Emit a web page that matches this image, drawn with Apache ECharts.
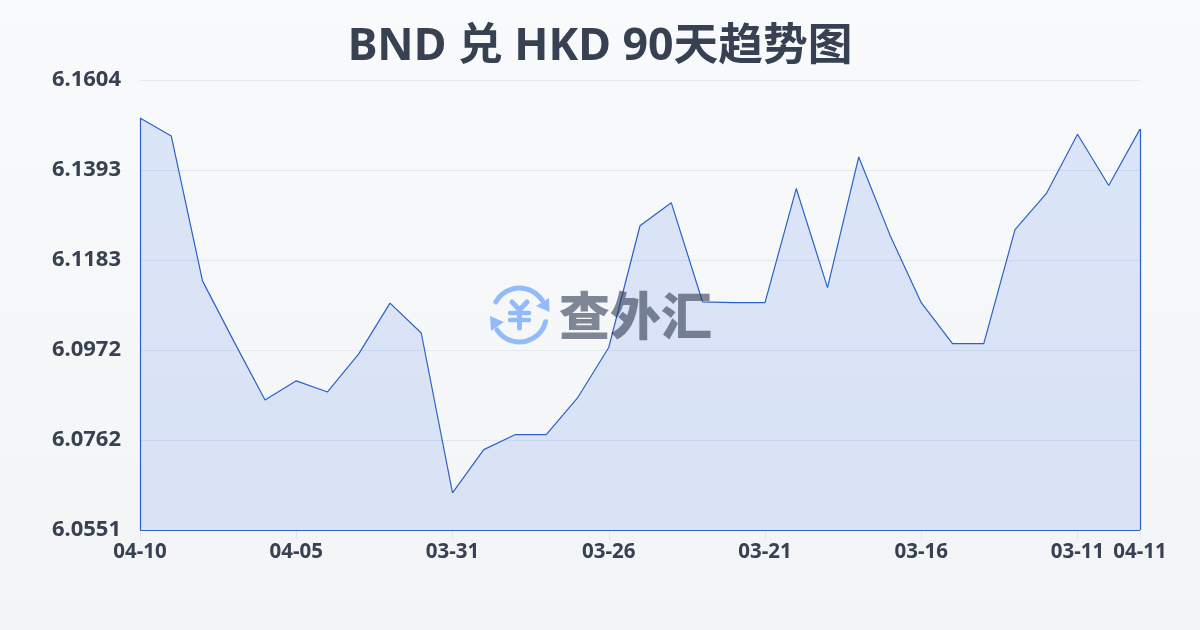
<!DOCTYPE html>
<html><head><meta charset="utf-8">
<style>html,body{margin:0;padding:0;width:1200px;height:630px;overflow:hidden}#c{width:1200px;height:630px}</style>
<script src="https://cdn.jsdelivr.net/npm/echarts@6/dist/echarts.min.js"></script>
</head><body><div id="c"></div>
<script>
const titleText = 'BND 兑 HKD 90天趋势图';
const categories = ['04-10','04-09','04-08','04-07','04-06','04-05','04-04','04-03','04-02','04-01','03-31','03-30','03-29','03-28','03-27','03-26','03-25','03-24','03-23','03-22','03-21','03-20','03-19','03-18','03-17','03-16','03-15','03-14','03-13','03-12','03-11','03-10','04-11'];
const rates = [6.1515,6.1473,6.1134,6.0993,6.0855,6.0900,6.0874,6.0963,6.1082,6.1012,6.0638,6.0739,6.0774,6.0774,6.0860,6.0978,6.1263,6.1317,6.1085,6.1083,6.1083,6.1350,6.1118,6.1424,6.1241,6.1083,6.0987,6.0987,6.1254,6.1338,6.1477,6.1357,6.1489];
const yMin = 6.0551, yMax = 6.1604, yStep = 0.02106;
const last = categories.length - 1;
const ink = '#374151', label = '#374151', blue = '#2b62c9', icon = '#93bbfb';
const showTick = i => i % 5 === 0 || i === last;
const chart = echarts.init(document.getElementById('c'), null, {renderer:'canvas'});
chart.setOption({
  animation:false,
  backgroundColor:{type:'linear',x:0,y:0,x2:0,y2:1,colorStops:[{offset:0,color:'#f8fafc'},{offset:1,color:'#f3f4f6'}]},
  title:{text:titleText,left:'center',top:20,textStyle:{fontFamily:'"Noto Sans","Noto Sans CJK SC"',fontSize:44.7,fontWeight:700,color:ink}},
  grid:{left:140,right:60,top:80,bottom:100,containLabel:false},
  xAxis:{type:'category',boundaryGap:false,data:categories,
    axisLine:{show:false},
    axisTick:{show:true,length:10,interval:i=>showTick(i),alignWithLabel:true,lineStyle:{color:'#e2e8f0'}},
    axisLabel:{interval:i=>showTick(i),hideOverlap:false,margin:12,fontFamily:'"Noto Sans"',fontSize:20.5,fontWeight:700,color:label},
    splitLine:{show:false}},
  yAxis:{type:'value',min:yMin,max:yMax,interval:yStep,
    axisLine:{show:false},axisTick:{show:false},
    axisLabel:{margin:19,padding:[0,0,3,0],fontFamily:'"Noto Sans"',fontSize:22,fontWeight:700,color:label,formatter:v=>v.toFixed(4)},
    splitLine:{show:true,lineStyle:{color:'#e2e8f0',width:1}}},
  graphic:[
    {type:'group',x:0,y:0,z:50,silent:true,children:[
      {type:'arc',shape:{cx:519.5,cy:315,r:27,startAngle:-2.64,endAngle:-0.58},style:{stroke:icon,lineWidth:5,fill:'none',lineCap:'round'}},
      {type:'arc',shape:{cx:519.5,cy:315,r:27,startAngle:0.25,endAngle:2.55},style:{stroke:icon,lineWidth:5,fill:'none',lineCap:'round'}},
      {type:'polygon',shape:{points:[[549,298],[549.5,312],[536,306]]},style:{fill:icon}},
      {type:'polygon',shape:{points:[[490,316],[504,322],[491,331]]},style:{fill:icon}},
      {type:'polyline',shape:{points:[[512,302],[519.5,310],[527,302]]},style:{stroke:icon,lineWidth:5,fill:'none',lineCap:'round'}},
      {type:'line',shape:{x1:519.5,y1:310,x2:519.5,y2:328},style:{stroke:icon,lineWidth:5,lineCap:'round'}},
      {type:'line',shape:{x1:510,y1:313,x2:529,y2:313},style:{stroke:icon,lineWidth:4.5,lineCap:'round'}},
      {type:'line',shape:{x1:510,y1:320,x2:529,y2:320},style:{stroke:icon,lineWidth:4.5,lineCap:'round'}}
    ]},
    {type:'text',left:559,top:290,z:50,silent:true,style:{text:'查外汇',font:'900 51px "Noto Sans CJK SC"',fill:'#2a3650',opacity:0.58}}
  ],
  series:[{type:'line',data:rates,symbol:'none',smooth:false,z:3,
    lineStyle:{color:blue,width:1.2},
    areaStyle:{color:{type:'linear',x:0,y:0,x2:0,y2:1,colorStops:[{offset:0,color:'rgba(40,105,225,0.20)'},{offset:1,color:'rgba(40,105,225,0.19)'}]}},
    markLine:{silent:true,symbol:'none',label:{show:false},emphasis:{disabled:true},
      lineStyle:{color:blue,width:1.2,type:'solid'},
      data:[
        [{coord:[categories[0],yMin]},{coord:[categories[0],rates[0]]}],
        [{coord:[categories[0],yMin]},{coord:[categories[last],yMin]}],
        [{coord:[categories[last],yMin]},{coord:[categories[last],rates[last]]}]
      ]}
  }]
});
</script></body></html>
